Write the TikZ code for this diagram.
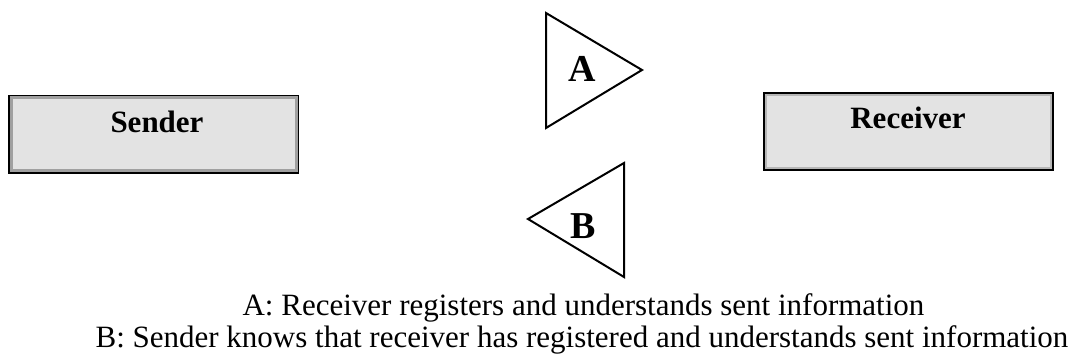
\documentclass[tikz,border=0pt]{standalone}
\usepackage{fontspec}
\setmainfont{Liberation Serif}
\definecolor{boxfill}{HTML}{E3E3E3}
\definecolor{innergray}{HTML}{A0A0A0}
\begin{document}
\begin{tikzpicture}[x=1pt,y=1pt,
  actor/.style={draw=black, line width=3pt, fill=boxfill, minimum width=288pt, minimum height=76pt, inner sep=0pt},
  actorlbl/.style={font=\fontsize{31}{36}\selectfont\bfseries, inner sep=0pt, anchor=base},
  tri/.style={draw=black, line width=2pt, line join=miter},
  trilbl/.style={font=\fontsize{38}{44}\selectfont\bfseries, inner sep=0pt},
  caption/.style={font=\fontsize{31}{36}\selectfont, inner sep=0pt, anchor=base}]
\useasboundingbox (0,0) rectangle (1074,358);
% Sender
\node[actor] (sender) at (153.5,223.5) {};
\draw[innergray, line width=3pt] ([shift={(3,-3)}]sender.north west) rectangle ([shift={(-3,3)}]sender.south east);
\node[actorlbl] (senderlbl) at (157,225) {Sender};
% Receiver
\node[actor] (receiver) at (908.5,226) {};
\draw[boxfill!80!black, line width=2pt] ([shift={(3,-3)}]receiver.north west) rectangle ([shift={(-3,3)}]receiver.south east);
\node[actorlbl] (receiverlbl) at (908,229) {Receiver};
% Triangle A
\draw[tri] (546,345) -- (546,230) -- (642,288) -- cycle;
\node[trilbl] (alabel) at (582,289) {A};
% Triangle B
\draw[tri] (624,195) -- (624,81) -- (528,139) -- cycle;
\node[trilbl] (blabel) at (583,132) {B};
% Captions
\node[caption] (capA) at (583.5,42) {A: Receiver registers and understands sent information};
\node[caption] (capB) at (582,10) {B: Sender knows that receiver has registered and understands sent information};
\end{tikzpicture}
\end{document}
